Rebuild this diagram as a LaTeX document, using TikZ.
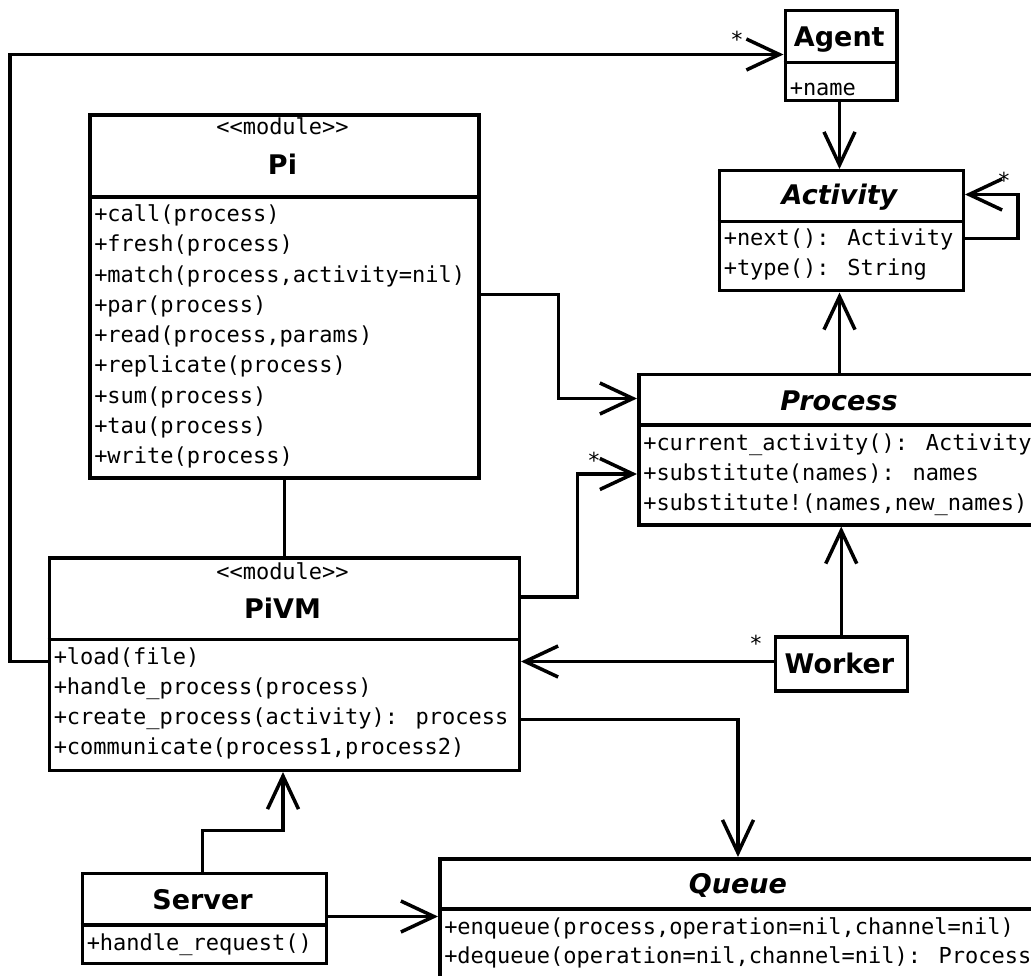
\documentclass[tikz,border=0pt]{standalone}
\usepackage{fontspec}
\usetikzlibrary{arrows.meta}
\newfontfamily\umlsans{DejaVu Sans}[BoldFont={DejaVu Sans Bold},ItalicFont={DejaVu Sans Oblique},BoldItalicFont={DejaVu Sans Bold Oblique}]
\newfontfamily\umlmono{DejaVu Sans Mono}
\begin{document}
\begin{tikzpicture}[x=1pt,y=-1pt,line width=3.5pt,
  classbox/.style={draw,rectangle,inner sep=0pt,anchor=north west},
  member/.style={font=\umlmono\fontsize{22}{26}\selectfont,inner sep=0pt,anchor=base west},
  stereo/.style={font=\umlmono\fontsize{22}{26}\selectfont,inner sep=0pt,anchor=base},
  cname/.style={font=\umlsans\bfseries\fontsize{27}{32}\selectfont,inner sep=0pt,anchor=base},
  aname/.style={font=\umlsans\bfseries\itshape\fontsize{27}{32}\selectfont,inner sep=0pt,anchor=base},
  mult/.style={font=\umlmono\fontsize{22}{26}\selectfont,inner sep=0pt},
  assoc/.style={-{Straight Barb[length=33pt,width=31pt]},line join=miter},
  plain/.style={-}]
\useasboundingbox (0,0) rectangle (1031,976);
\clip (0,0) rectangle (1031,976);

% ---------- Agent ----------
\node[classbox,minimum width=111.5pt,minimum height=90pt] (agent) at (783.5,9) {};
\draw (783.5,62.5) -- (895,62.5);
\node[cname] (agentT) at (839.3,46.7) {Agent};
\node[member] (agentM1) at (788,96) {+name};

% ---------- Activity ----------
\node[classbox,minimum width=244pt,minimum height=120pt] (activity) at (717.5,169) {};
\draw (717.5,221.5) -- (961.5,221.5);
\node[aname] (activityT) at (839.5,205) {Activity};
\node[member] (activityM1) at (722,246) {+next(): Activity};
\node[member] (activityM2) at (722,276) {+type(): String};

% ---------- Pi ----------
\node[classbox,minimum width=389pt,minimum height=362.5pt] (pi) at (88,113.5) {};
\draw (88,197) -- (477,197);
\node[stereo] (piS) at (282.5,135) {<<module>>};
\node[cname] (piT) at (282.5,175) {Pi};
\node[member] (piM1) at (92.5,221.7) {+call(process)};
\node[member] (piM2) at (92.5,251.95) {+fresh(process)};
\node[member] (piM3) at (92.5,282.2) {+match(process,activity=nil)};
\node[member] (piM4) at (92.5,312.45) {+par(process)};
\node[member] (piM5) at (92.5,342.7) {+read(process,params)};
\node[member] (piM6) at (92.5,372.95) {+replicate(process)};
\node[member] (piM7) at (92.5,403.2) {+sum(process)};
\node[member] (piM8) at (92.5,433.45) {+tau(process)};
\node[member] (piM9) at (92.5,463.7) {+write(process)};

% ---------- Process ----------
\node[classbox,minimum width=404pt,minimum height=150.5pt] (process) at (637,372.5) {};
\draw (637,425) -- (1041,425);
\node[aname] (processT) at (839,410.7) {Process};
\node[member] (processM1) at (641.5,450) {+current\_activity(): Activity};
\node[member] (processM2) at (641.5,480) {+substitute(names): names};
\node[member] (processM3) at (641.5,510) {+substitute!(names,new\_names)};

% ---------- PiVM ----------
\node[classbox,minimum width=470pt,minimum height=212.5pt] (pivm) at (47.5,556) {};
\draw (47.5,639.5) -- (517.5,639.5);
\node[stereo] (pivmS) at (282.5,579) {<<module>>};
\node[cname] (pivmT) at (282.5,618.3) {PiVM};
\node[member] (pivmM1) at (52,664) {+load(file)};
\node[member] (pivmM2) at (52,694) {+handle\_process(process)};
\node[member] (pivmM3) at (52,724) {+create\_process(activity): process};
\node[member] (pivmM4) at (52,754) {+communicate(process1,process2)};

% ---------- Worker ----------
\node[classbox,minimum width=132pt,minimum height=54pt] (worker) at (773.5,635) {};
\node[cname] (workerT) at (839.5,673) {Worker};

% ---------- Server ----------
\node[classbox,minimum width=244pt,minimum height=90pt] (server) at (80.5,871.5) {};
\draw (80.5,925) -- (324.5,925);
\node[cname] (serverT) at (202.5,909) {Server};
\node[member] (serverM1) at (85,950) {+handle\_request()};

% ---------- Queue ----------
\node[classbox,minimum width=600pt,minimum height=140pt] (queue) at (438,857) {};
\draw (438,909) -- (1038,909);
\node[aname] (queueT) at (738,893.3) {Queue};
\node[member] (queueM1) at (442.5,934) {+enqueue(process,operation=nil,channel=nil)};
\node[member] (queueM2) at (442.5,963) {+dequeue(operation=nil,channel=nil): Process};

% ---------- connectors ----------
% PiVM -> Agent (around the left side)
\draw[assoc] (pivm.west |- 0,661.5) -- (10,661.5) -- (10,54.5) -- (agent.west |- 0,54.5);
\node[mult] (mAgent) at (737,39) {*};

% Agent -> Activity
\draw[assoc] (agent.south -| 839.5,0) -- (activity.north -| 839.5,0);

% Activity -> Activity (self association)
\draw[assoc] (activity.east |- 0,238.5) -- (1018,238.5) -- (1018,194.5) -- (activity.east |- 0,194.5);
\node[mult] (mActivity) at (1004,180) {*};

% Process -> Activity
\draw[assoc] (process.north -| 839.5,0) -- (activity.south -| 839.5,0);

% Pi -> Process
\draw[assoc] (pi.east |- 0,294.5) -- (558.5,294.5) -- (558.5,398.5) -- (process.west |- 0,398.5);

% PiVM -> Process
\draw[assoc] (pivm.east |- 0,597) -- (577.5,597) -- (577.5,474) -- (process.west |- 0,474);
\node[mult] (mProcess) at (594,460) {*};

% Pi -- PiVM
\draw[plain] (pi.south) -- (pivm.north);

% Worker -> Process
\draw[assoc] (worker.north) -- (process.south -| worker.north);

% Worker -> PiVM
\draw[assoc] (worker.west |- 0,661.5) -- (pivm.east |- 0,661.5);
\node[mult] (mWorker) at (756,643) {*};

% PiVM -> Queue
\draw[assoc] (pivm.east |- 0,719.5) -- (738,719.5) -- (queue.north -| 738,0);

% Server -> PiVM
\draw[assoc] (server.north -| 202.5,0) -- (202.5,830.5) -- (283,830.5) -- (pivm.south -| 283,0);

% Server -> Queue
\draw[assoc] (server.east |- 0,916.5) -- (queue.west |- 0,916.5);
\end{tikzpicture}
\end{document}
